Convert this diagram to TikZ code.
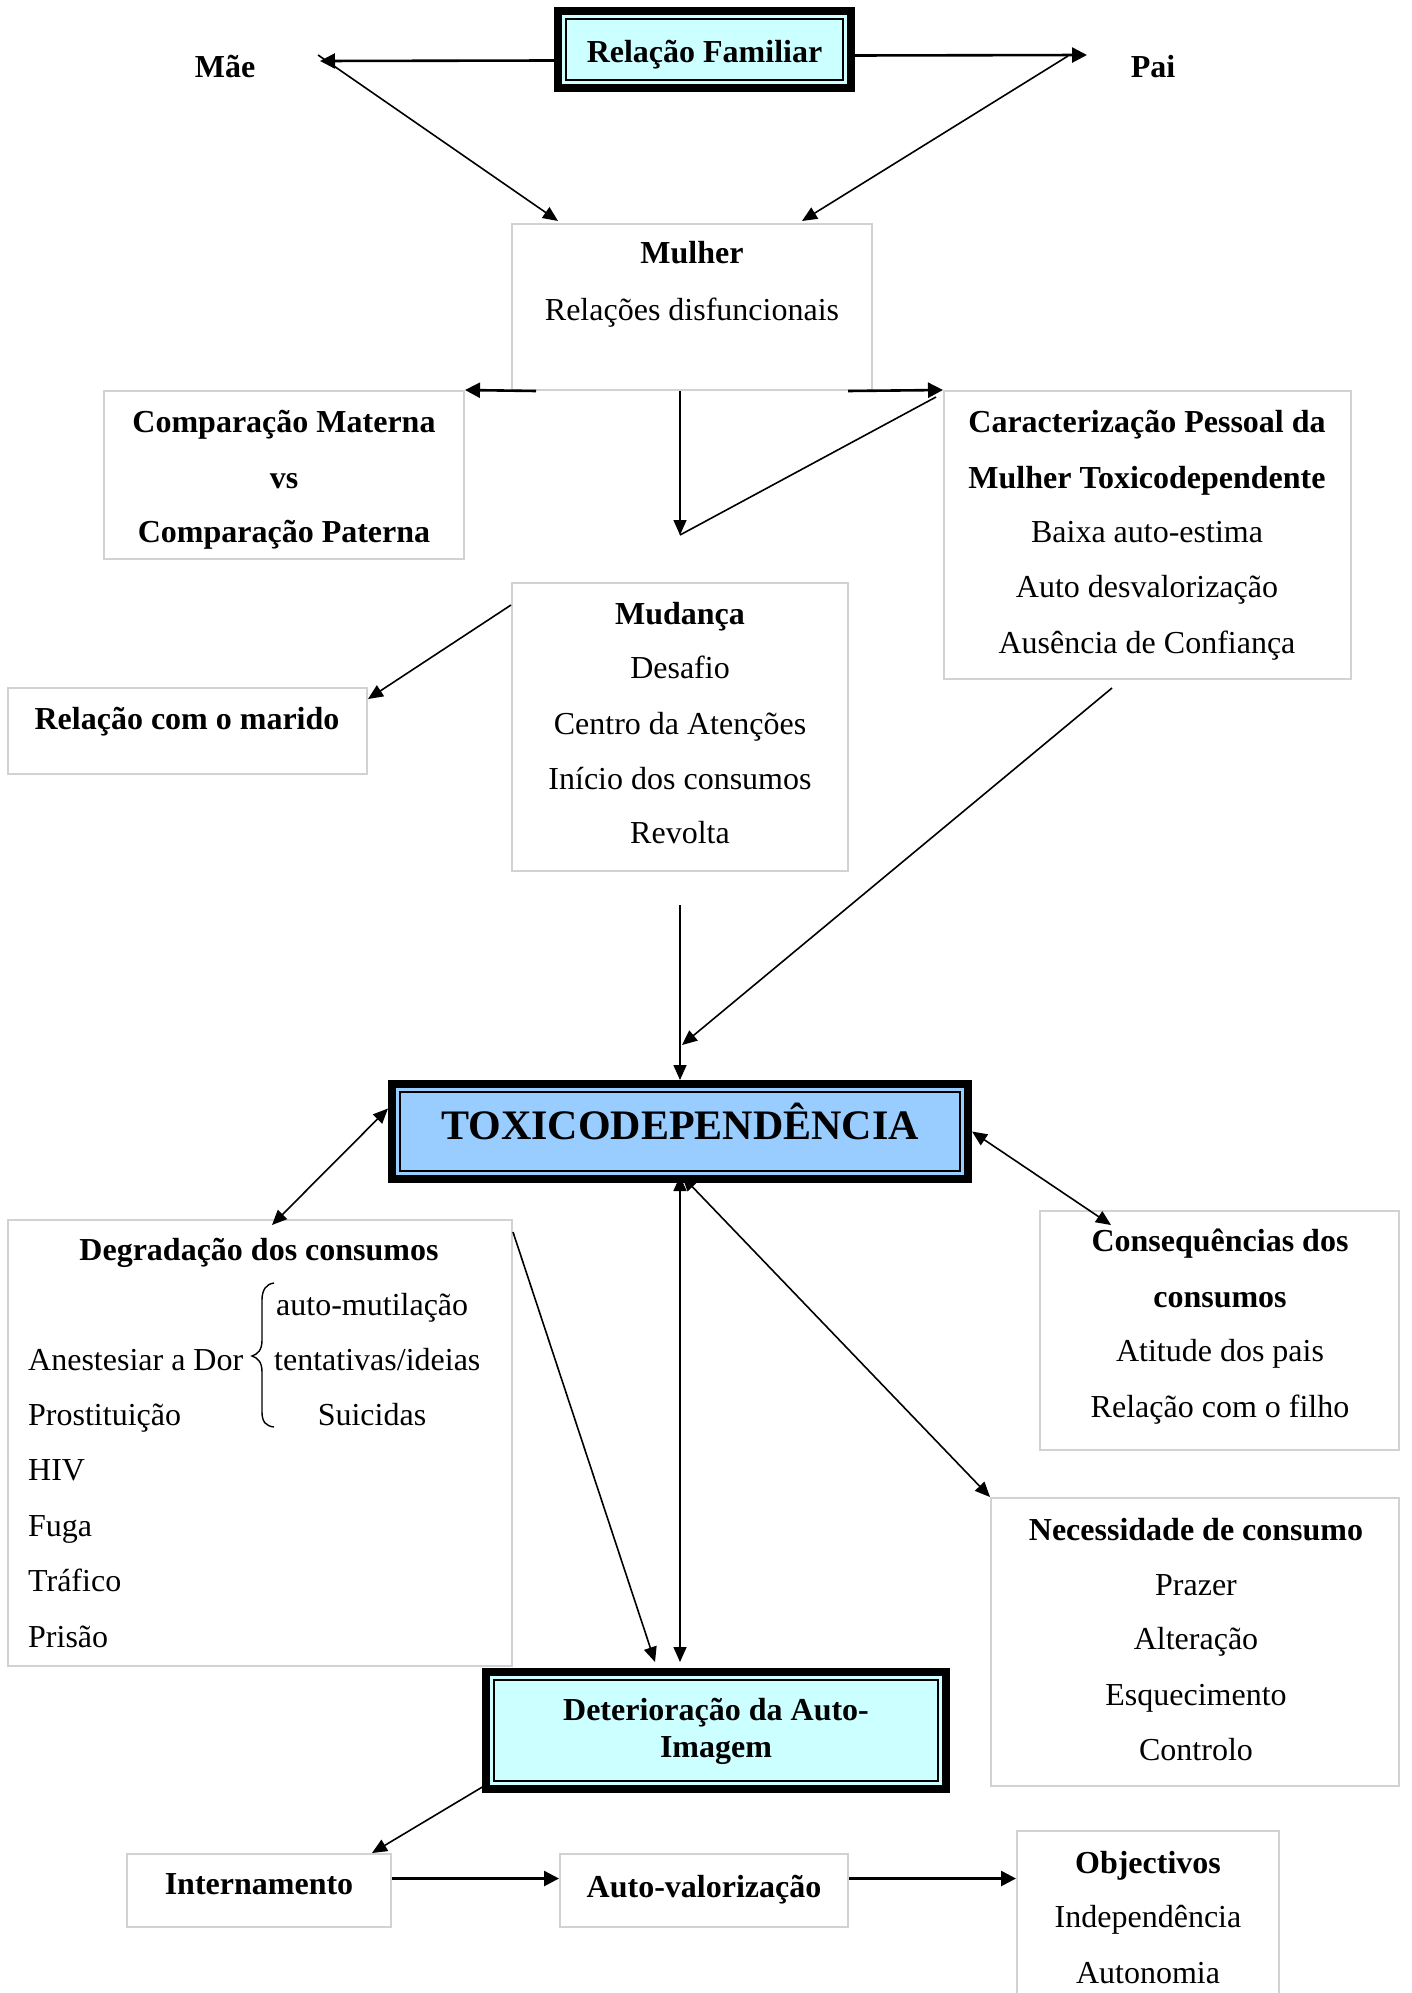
\documentclass[tikz,border=0pt]{standalone}
\usepackage{fontspec}
\setmainfont{Liberation Serif}
\usetikzlibrary{arrows.meta,calc}
\definecolor{lcyan}{HTML}{CCFFFF}
\definecolor{lblue}{HTML}{99CCFF}
\definecolor{bgray}{HTML}{D2D2D2}
\begin{document}
\begin{tikzpicture}[x=1pt,y=-1pt,
 every node/.style={font=\fontsize{32}{38}\selectfont, inner sep=0pt},
 gbox/.style={draw=bgray, line width=2pt, fill=white},
 dbox/.style={draw=black, line width=8pt},
 txt/.style={anchor=base},
 bt/.style={anchor=base, font=\fontsize{32}{38}\selectfont\bfseries},
 lt/.style={anchor=base west},
 arr/.style={line width=1.6pt, -{Triangle[length=15pt,width=13pt]}},
 tarr/.style={line width=2.6pt, -{Triangle[length=15pt,width=15pt]}},
 darr/.style={line width=1.6pt, {Triangle[length=15pt,width=13pt]}-{Triangle[length=15pt,width=13pt]}},
 inner/.style={line width=2pt},
]
\clip (0,0) rectangle (1412,1993);
\fill[white] (0,0) rectangle (1412,1993);

% ---------- boxes ----------
\node[dbox, fill=lcyan, minimum width=293, minimum height=77] (rf) at (704.5,49.5) {};
\draw[inner] ($(rf.north west)+(12,12)$) rectangle ($(rf.south east)+(-12,-12)$);
\node[bt] (rft) at (704.5,63) {Relação Familiar};

\node[gbox, minimum width=360, minimum height=166] (mulher) at (692,307) {};
\node[gbox, minimum width=360, minimum height=168] (comp) at (284,475) {};
\node[gbox, minimum width=407, minimum height=288] (carac) at (1147.5,535) {};
\node[gbox, minimum width=336, minimum height=288] (mud) at (680,727) {};
\node[gbox, minimum width=359, minimum height=86] (marido) at (187.5,731) {};

\node[dbox, fill=lblue, minimum width=576, minimum height=95] (toxi) at (680,1131.5) {};
\draw[inner] ($(toxi.north west)+(12,12)$) rectangle ($(toxi.south east)+(-12,-12)$);

\node[gbox, minimum width=504, minimum height=446] (degr) at (260,1443) {};
\node[gbox, minimum width=359, minimum height=239] (cons) at (1219.5,1330.5) {};
\node[gbox, minimum width=408, minimum height=288] (nec) at (1195,1642) {};

\node[dbox, fill=lcyan, minimum width=460, minimum height=117] (deter) at (716,1730.5) {};
\draw[inner] ($(deter.north west)+(12,12)$) rectangle ($(deter.south east)+(-12,-12)$);

\node[gbox, minimum width=264, minimum height=73] (intern) at (259,1890.5) {};
\node[gbox, minimum width=288, minimum height=73] (autov) at (704,1890.5) {};
\node[gbox, minimum width=262, minimum height=178] (obj) at (1148,1920) {};

% ---------- texts ----------
\node[bt] (mae) at (225,78) {Mãe};
\node[bt] (pai) at (1153,78) {Pai};

\node[bt] (t1) at (692,264) {Mulher};
\node[txt] (t2) at (692,320) {Relações disfuncionais};

\node[bt] (c1) at (284,432) {Comparação Materna};
\node[bt] (c2) at (284,488) {vs};
\node[bt] (c3) at (284,542) {Comparação Paterna};

\node[bt] (k1) at (1147,432) {Caracterização Pessoal da};
\node[bt] (k2) at (1147,488) {Mulher Toxicodependente};
\node[txt] (k3) at (1147,542) {Baixa auto-estima};
\node[txt] (k4) at (1147,597) {Auto desvalorização};
\node[txt] (k5) at (1147,653) {Ausência de Confiança};

\node[bt] (m1) at (680,624) {Mudança};
\node[txt] (m2) at (680,678) {Desafio};
\node[txt] (m3) at (680,734) {Centro da Atenções};
\node[txt] (m4) at (680,789) {Início dos consumos};
\node[txt] (m5) at (680,843) {Revolta};

\node[bt] (r1) at (187,729) {Relação com o marido};

\node[anchor=base, font=\fontsize{42}{50}\selectfont\bfseries] (toxit) at (680,1139) {TOXICODEPENDÊNCIA};

\node[bt] (d0) at (259,1260) {Degradação dos consumos};
\node[lt] (d1) at (28,1370) {Anestesiar a Dor};
\node[lt] (d2) at (28,1425) {Prostituição};
\node[lt] (d3) at (28,1480) {HIV};
\node[lt] (d4) at (28,1536) {Fuga};
\node[lt] (d5) at (28,1591) {Tráfico};
\node[lt] (d6) at (28,1647) {Prisão};
\node[lt] (e1) at (276,1315) {auto-mutilação};
\node[lt] (e2) at (274,1370) {tentativas/ideias};
\node[txt] (e3) at (372,1425) {Suicidas};
\draw[line width=1.4pt] (274,1283) .. controls (266,1284) and (262,1290) .. (262,1300) -- (262,1340) .. controls (262,1350) and (258,1354) .. (252,1356) .. controls (258,1358) and (262,1362) .. (262,1372) -- (262,1412) .. controls (262,1422) and (266,1426) .. (274,1427);

\node[bt] (s1) at (1220,1251) {Consequências dos};
\node[bt] (s2) at (1220,1307) {consumos};
\node[txt] (s3) at (1220,1361) {Atitude dos pais};
\node[txt] (s4) at (1220,1417) {Relação com o filho};

\node[bt] (n1) at (1196,1540) {Necessidade de consumo};
\node[txt] (n2) at (1196,1595) {Prazer};
\node[txt] (n3) at (1196,1649) {Alteração};
\node[txt] (n4) at (1196,1705) {Esquecimento};
\node[txt] (n5) at (1196,1760) {Controlo};

\node[bt] (dt1) at (716,1720) {Deterioração da Auto-};
\node[bt] (dt2) at (716,1757) {Imagem};

\node[bt] (i1) at (259,1894) {Internamento};
\node[bt] (a1) at (704,1897) {Auto-valorização};

\node[bt] (o1) at (1148,1873) {Objectivos};
\node[txt] (o2) at (1148,1927) {Independência};
\node[txt] (o3) at (1148,1983) {Autonomia};

% ---------- connectors ----------
\coordinate (maeP) at (320,61);
\coordinate (maeQ) at (318,55);
\coordinate (paiP) at (1087,55);
\coordinate (paiQ) at (1068,56);
\coordinate (vtip) at (680,535);
\coordinate (caracOut) at (1112,688);
\coordinate (mudOut) at (680,905);

\draw[tarr] ($(rf.west)+(0,11)$) -- (maeP);
\draw[arr] (maeQ) -- ($(mulher.north west)+(47,-2)$);
\draw[tarr] ($(rf.east)+(0,6)$) -- (paiP);
\draw[arr] (paiQ) -- ($(mulher.north east)+(-71,-2)$);

\draw[tarr] ($(mulher.south west)+(25,0)$) -- (comp.north east);
\draw[tarr] ($(mulher.south east)+(-25,0)$) -- (carac.north west);
\draw[arr] (mud.north |- mulher.south) -- (vtip);
\draw[line width=1.6pt] (vtip) -- ($(carac.north west)+(-7,7)$);

\draw[arr] ($(mud.north west)+(0,23)$) -- ($(marido.north east)+(0,12)$);
\draw[arr] (caracOut) -- ($(toxi.north)+(2,-35)$);
\draw[arr] (mudOut) -- (toxi.north);

\draw[darr] ($(degr.north west)+(265,6)$) -- ($(toxi.west)+(0,-23)$);
\draw[darr] (toxi.east) -- ($(cons.north west)+(72,15)$);
\draw[darr] ($(toxi.south)+(2,-7)$) -- (nec.north west);
\draw[darr] ($(toxi.south)+(0,-7)$) -- ($(deter.north)+(-36,-6)$);
\draw[arr] ($(degr.north east)+(0,13)$) -- ($(deter.north)+(-61,-6)$);

\draw[arr] ($(deter.south west)+(2,-7)$) -- ($(intern.north east)+(-20,0)$);
\draw[tarr] ($(intern.east)+(0,-12)$) -- ($(autov.west)+(0,-12)$);
\draw[tarr] ($(autov.east)+(0,-12)$) -- ($(autov.east -| obj.west)+(0,-12)$);
\end{tikzpicture}
\end{document}
